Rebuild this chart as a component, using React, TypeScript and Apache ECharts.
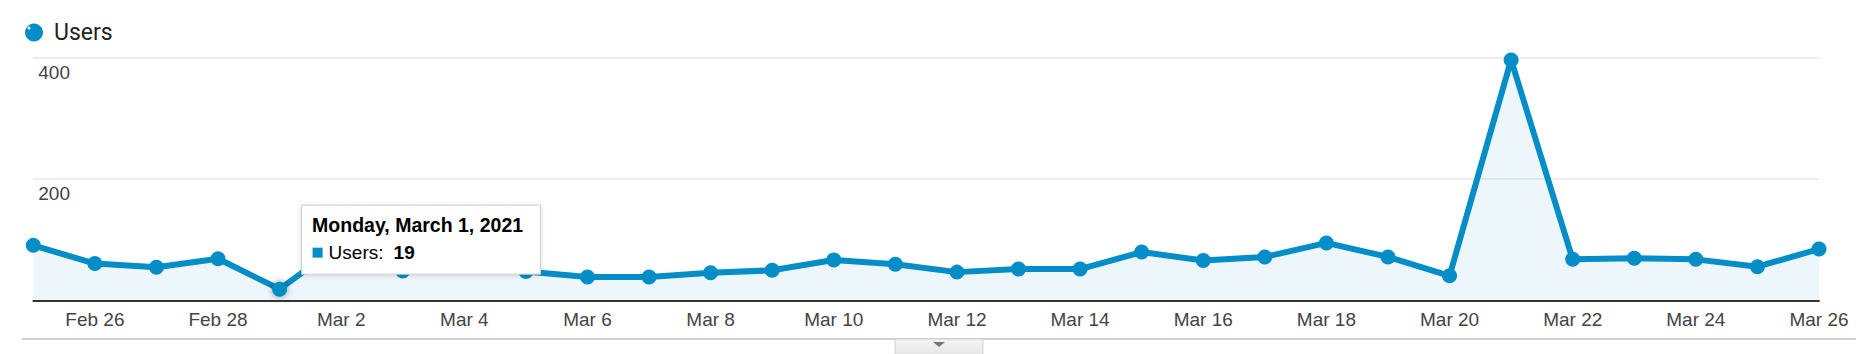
import React, { useEffect, useRef } from "react";
import * as echarts from "echarts";

const categories = [
  "Feb 25", "Feb 26", "Feb 27", "Feb 28", "Mar 1", "Mar 2", "Mar 3", "Mar 4", "Mar 5", "Mar 6",
  "Mar 7", "Mar 8", "Mar 9", "Mar 10", "Mar 11", "Mar 12", "Mar 13", "Mar 14", "Mar 15", "Mar 16",
  "Mar 17", "Mar 18", "Mar 19", "Mar 20", "Mar 21", "Mar 22", "Mar 23", "Mar 24", "Mar 25", "Mar 26",
];
const users = [
  91, 61, 55, 69, 19, 93, 49, 62, 48, 39,
  39, 46, 50, 67, 60, 47, 52, 52, 80, 66,
  72, 95, 72, 41, 396, 68, 70, 68, 56, 85,
];
const seriesName = "Users";
const yTicks = { min: 0, max: 400, interval: 200 };
const hoverIndex = 4;
const tooltipTitle = "Monday, March 1, 2021";

const BLUE = "#058DC7";
const FONT = 'Arial, "Liberation Sans", sans-serif';

export default function App() {
  const ref = useRef<HTMLDivElement>(null);
  useEffect(() => {
    if (!ref.current) return;
    const chart = echarts.init(ref.current, undefined, { renderer: "svg" });
    chart.setOption({
      animation: false,
      grid: { left: 33.3, right: 51, top: 57.5, bottom: 53.3, outerBoundsMode: "none" },
      legend: {
        data: [seriesName],
        left: 20,
        top: 16,
        icon: "circle",
        itemWidth: 18,
        itemHeight: 18,
        textStyle: { fontSize: 23, color: "#222", fontFamily: "Roboto, Arial, sans-serif", padding: [0, 0, 0, 6] },
      },
      xAxis: {
        type: "category",
        data: categories,
        boundaryGap: false,
        axisLine: { lineStyle: { color: "#333", width: 2 } },
        axisTick: { show: false },
        axisLabel: {
          interval: (i: number) => i % 2 === 1,
          color: "#444",
          fontSize: 19,
          fontFamily: FONT,
          margin: 9,
        },
        splitLine: { show: false },
      },
      yAxis: {
        type: "value",
        min: yTicks.min,
        max: yTicks.max,
        interval: yTicks.interval,
        axisLine: { show: false },
        axisTick: { show: false },
        axisLabel: {
          inside: true,
          showMinLabel: false,
          align: "left",
          verticalAlign: "top",
          padding: [5, 0, 0, 0],
          margin: 5,
          color: "#444",
          fontSize: 19,
          fontFamily: FONT,
        },
        splitLine: { lineStyle: { color: "#e8e8e8", width: 1.5 } },
      },
      series: [
        {
          name: seriesName,
          type: "line",
          data: users.map((v, i) =>
            i === hoverIndex
              ? { value: v, itemStyle: { shadowBlur: 6, shadowColor: "rgba(0,0,0,0.45)" } }
              : v
          ),
          symbol: "circle",
          symbolSize: 15,
          showSymbol: true,
          color: BLUE,
          lineStyle: { color: BLUE, width: 6 },
          itemStyle: { color: BLUE },
          areaStyle: { color: "rgba(5,141,199,0.1)" },
        },
      ],
    });

    const [px, py] = chart.convertToPixel({ xAxisIndex: 0, yAxisIndex: 0 }, [hoverIndex, users[hoverIndex]]);
    const tx = px + 22;
    const ty = py - 84;
    const Z = 1000;
    chart.setOption({
      graphic: [
        { type: "circle", shape: { cx: 29, cy: 28, r: 1.5 }, style: { fill: "#fff" }, z: Z },
        { type: "line", shape: { x1: 22, y1: 339, x2: 1856, y2: 339 }, style: { stroke: "#d0d0d0", lineWidth: 2 } },
        {
          type: "rect",
          z: Z,
          shape: { x: 895, y: 339, width: 88, height: 22 },
          style: {
            fill: new echarts.graphic.LinearGradient(0, 0, 0, 1, [
              { offset: 0, color: "#f4f4f4" },
              { offset: 1, color: "#e2e2e2" },
            ]),
            stroke: "#cfcfcf",
            lineWidth: 1,
          },
        },
        { type: "polygon", z: Z + 1, shape: { points: [[933, 342], [945, 342], [939, 347]] }, style: { fill: "#777" } },
        {
          type: "rect",
          z: Z,
          shape: { x: tx, y: ty, width: 239, height: 69 },
          style: { fill: "#fff", stroke: "#cccccc", lineWidth: 1, shadowBlur: 5, shadowColor: "rgba(0,0,0,0.15)", shadowOffsetY: 1 },
        },
        {
          type: "text",
          z: Z + 1,
          x: tx + 10.5,
          y: ty + 20,
          style: { text: tooltipTitle, fill: "#000", font: `bold 19.5px ${FONT}`, verticalAlign: "middle", align: "left" },
        },
        { type: "rect", z: Z + 1, shape: { x: tx + 11, y: ty + 42.5, width: 10, height: 10 }, style: { fill: BLUE } },
        {
          type: "text",
          z: Z + 1,
          x: tx + 27,
          y: ty + 47.5,
          style: { text: `${seriesName}:`, fill: "#000", font: `19px ${FONT}`, verticalAlign: "middle", align: "left" },
        },
        {
          type: "text",
          z: Z + 1,
          x: tx + 92,
          y: ty + 47.5,
          style: { text: `${users[hoverIndex]}`, fill: "#000", font: `bold 19px ${FONT}`, verticalAlign: "middle", align: "left" },
        },
      ],
    });
    return () => chart.dispose();
  }, []);
  return <div ref={ref} style={{ position: "absolute", left: 0, top: 0, width: 1870, height: 354, background: "#fff" }} />;
}
